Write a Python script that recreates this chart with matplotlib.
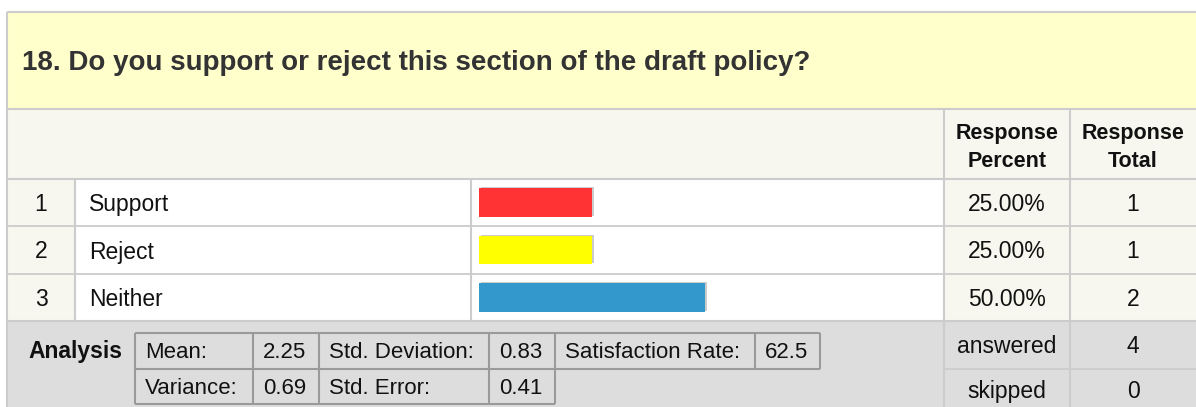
import matplotlib
matplotlib.use("Agg")
import matplotlib.pyplot as plt
from matplotlib.patches import Rectangle
from matplotlib.transforms import offset_copy

# survey data
question = "18. Do you support or reject this section of the draft policy?"
choices = ["Support", "Reject", "Neither"]
percents = [25.0, 25.0, 50.0]
totals = [1, 1, 2]
bar_colors = ["#ff3333", "#ffff00", "#3399cc"]
answered = 4
skipped = 0
stats_row1 = [("Mean:", "2.25"), ("Std. Deviation:", "0.83"), ("Satisfaction Rate:", "62.5")]
stats_row2 = [("Variance:", "0.69"), ("Std. Error:", "0.41")]

W, H = 1196, 407
plt.rcParams["font.family"] = ["Liberation Sans", "DejaVu Sans"]

fig = plt.figure(figsize=(W / 100, H / 100), dpi=100)
ax = fig.add_axes([0, 0, 1, 1])
ax.set_xlim(0, W)
ax.set_ylim(H, 0)
ax.axis("off")

GRID = "#cccccc"
BEIGE = "#f7f7ef"
GREY = "#dddddd"
TXT = "#111111"

# layout (pixels)
left, right = 7, W + 5
col_num, col_lab, col_bar, col_pct, col_tot = 7, 75, 471, 944, 1070
y_top, y_head, y_rows, y_ana = 12, 109, 179, 321
row_h = (y_ana - y_rows) / len(choices)


def rect(x0, y0, x1, y1, fc, z=1):
    ax.add_patch(Rectangle((x0, y0), x1 - x0, y1 - y0, facecolor=fc,
                           edgecolor="none", zorder=z))


def hline(y, x0, x1, c=GRID, lw=1.5, z=3):
    ax.plot([x0, x1], [y, y], color=c, lw=lw, zorder=z, solid_capstyle="butt")


def vline(x, y0, y1, c=GRID, lw=1.5, z=3):
    ax.plot([x, x], [y0, y1], color=c, lw=lw, zorder=z, solid_capstyle="butt")


def txt(x, y, s, size=16.5, ha="left", **kw):
    ax.text(x, y, s, fontsize=size, ha=ha, va="baseline", color=kw.pop("color", TXT), **kw)


# backgrounds
rect(left, y_top, right, y_head, "#ffffcc")
rect(left, y_head, right, y_rows, BEIGE)
rect(col_num, y_rows, col_lab, y_ana, BEIGE)
rect(col_lab, y_rows, col_pct, y_ana, "white")
rect(col_pct, y_rows, right, y_ana, BEIGE)
rect(left, y_ana, right, H + 5, GREY)

# grid lines
hline(y_top, left, right)
vline(left, y_top, H + 5)
hline(y_head, left, right)
hline(y_rows, left, right)
for i in range(1, len(choices)):
    hline(y_rows + i * row_h, left, right, lw=1.3)
hline(y_ana, left, right)
for x in (col_lab, col_bar):
    vline(x, y_rows, y_ana)
for x in (col_pct, col_tot):
    vline(x, y_head, H + 5)
hline(369, col_pct, right, lw=1.2)

# title
txt(22, 70, question, size=20, fontweight="bold", color="#333333")

# header
for cx, lines in (((col_pct + col_tot) / 2, ["Response", "Percent"]),
                  ((col_tot + W) / 2, ["Response", "Total"])):
    for k, t in enumerate(lines):
        txt(cx, 139 + k * 28, t, size=15.5, ha="center", fontweight="bold")

# rows
for i, (c, p, t) in enumerate(zip(choices, percents, totals)):
    by = y_rows + (i + 0.5) * row_h + 8.5
    txt((col_num + col_lab) / 2, by, str(i + 1), ha="center")
    txt(89, by, c)
    txt((col_pct + col_tot) / 2, by, f"{p:.2f}%", ha="center")
    txt((col_tot + W) / 2, by, str(t), ha="center")

# bars
bx0, bx1 = 479, 931
bax = fig.add_axes([bx0 / W, 1 - y_ana / H, (bx1 - bx0) / W, (y_ana - y_rows) / H])
bax.set_xlim(0, 100)
bax.set_ylim(len(choices) - 0.5, -0.5)
bax.axis("off")
bax.patch.set_alpha(0)
ypos = list(range(len(choices)))
shadow = offset_copy(bax.transData, fig=fig, x=2, y=1, units="dots")
bax.barh(ypos, percents, height=0.6, color=GRID, transform=shadow, zorder=1)
bax.barh(ypos, percents, height=0.6, color=bar_colors, zorder=2)

# analysis
txt(122, 358, "Analysis", ha="right", fontweight="bold")
tcols1 = [135, 253, 319, 489, 555, 755, 820]
tcols2 = [135, 253, 319, 489, 555]
ty = [333, 368.5, 404]
BORDER = "#9a9a9a"
hline(ty[0], tcols1[0], tcols1[-1], c=BORDER, z=4)
hline(ty[1], tcols1[0], tcols1[-1], c=BORDER, z=4)
hline(ty[2], tcols2[0], tcols2[-1], c=BORDER, z=4)
for x in tcols1:
    vline(x, ty[0], ty[1], c=BORDER, z=4)
for x in tcols2:
    vline(x, ty[1], ty[2], c=BORDER, z=4)
for row, cols, by in ((stats_row1, tcols1, 358), (stats_row2, tcols2, 394)):
    cells = [s for pair in row for s in pair]
    for k, s in enumerate(cells):
        txt(cols[k] + 10, by, s, size=16)

txt((col_pct + col_tot) / 2, 353, "answered", ha="center")
txt((col_tot + W) / 2, 353, str(answered), ha="center")
txt((col_pct + col_tot) / 2, 398, "skipped", ha="center")
txt((col_tot + W) / 2, 398, str(skipped), ha="center")

fig.savefig("out.png", dpi=100)
